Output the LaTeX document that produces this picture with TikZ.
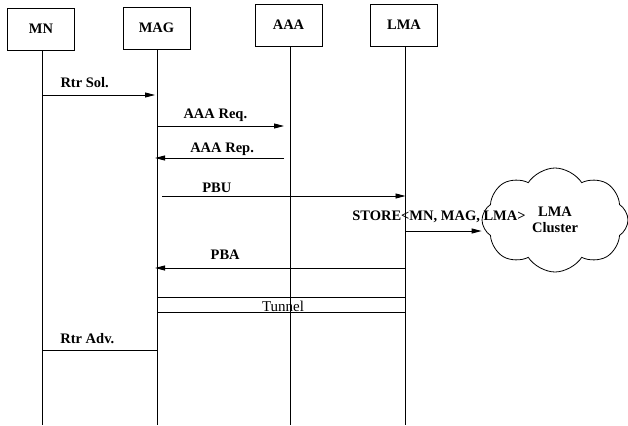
\documentclass[tikz,border=0pt]{standalone}
\usepackage{fontspec}
\setmainfont{Liberation Serif}
\usetikzlibrary{arrows.meta,shapes.symbols}
\newcommand{\lblfont}{\fontsize{14.5}{16}\selectfont\bfseries}
\tikzset{
  >={Triangle[length=10pt,width=5pt]},
  entity/.style={draw,line width=0.9pt,minimum width=67pt,minimum height=42pt,
    inner sep=0pt,font=\lblfont},
  lifeline/.style={line width=0.9pt},
  msg/.style={->,line width=0.9pt},
  plainmsg/.style={line width=0.9pt},
  msglbl/.style={font=\lblfont,inner sep=0pt},
  tunnelbox/.style={draw,line width=0.9pt,minimum width=248pt,minimum height=15pt,
    inner sep=0pt},
  tunnellbl/.style={font=\fontsize{15}{17}\selectfont,inner sep=0pt},
  cluster/.style={draw,cloud,cloud puffs=8,cloud puff arc=115,aspect=1.4,
    minimum width=146pt,minimum height=104pt,inner sep=0pt,line width=0.8pt,
    font=\lblfont,align=center},
}

\begin{document}
\begin{tikzpicture}[x=1pt,y=-1pt]
  \useasboundingbox (0,0) rectangle (628,425);
  % entities
  \node[entity] (mn)  at (41,29)  {MN};
  \node[entity] (mag) at (156.5,28) {MAG};
  \node[entity] (aaa) at (288.5,25) {AAA};
  \node[entity] (lma) at (404,25) {LMA};
  % lifelines
  \coordinate (mnEnd)  at (42.5,425);
  \coordinate (magEnd) at (157.5,425);
  \coordinate (aaaEnd) at (290,425);
  \coordinate (lmaEnd) at (405.5,425);
  \foreach \e in {mn,mag,aaa,lma}
    \draw[lifeline] (\e.south -| \e End) -- (\e End);
  % message ends
  \coordinate (solS) at (42.5,95);  \coordinate (solE) at (155,95);
  \coordinate (reqS) at (158,126);  \coordinate (reqE) at (284,126);
  \coordinate (repS) at (284,158);  \coordinate (repE) at (155,158);
  \coordinate (pbuS) at (162,196);  \coordinate (pbuE) at (405.5,196);
  \coordinate (stoS) at (405.5,231);
  \coordinate (pbaS) at (405.5,268); \coordinate (pbaE) at (155,268);
  \coordinate (advS) at (157.5,350); \coordinate (advE) at (42.5,350);
  % LMA cluster
  \node[cluster] (cloud) at (555,220) {LMA\\Cluster};
  % messages
  \draw[msg] (solS) -- node[msglbl,pos=.375,yshift=12pt] {Rtr Sol.} (solE);
  \draw[msg] (reqS) -- node[msglbl,pos=.455,yshift=11pt] {AAA Req.} (reqE);
  \draw[msg] (repS) -- node[msglbl,pos=.48,yshift=9pt] {AAA Rep.} (repE);
  \draw[msg] (pbuS) -- node[msglbl,pos=.225,yshift=8pt] {PBU} (pbuE);
  \draw[msg] (stoS) -- node[msglbl,pos=.44,yshift=14pt]
    {STORE\textless MN, MAG, LMA\textgreater} (stoS -| cloud.west);
  \draw[msg] (pbaS) -- node[msglbl,pos=.72,yshift=13pt] {PBA} (pbaE);
  \node[tunnelbox] (tunnel) at (281.5,304.5) {};
  \node[tunnellbl] (tunneltxt) at (283,306.5) {Tunnel};
  \draw[plainmsg] (advS) -- node[msglbl,pos=.61,yshift=11pt] {Rtr Adv.} (advE);
\end{tikzpicture}
\end{document}
